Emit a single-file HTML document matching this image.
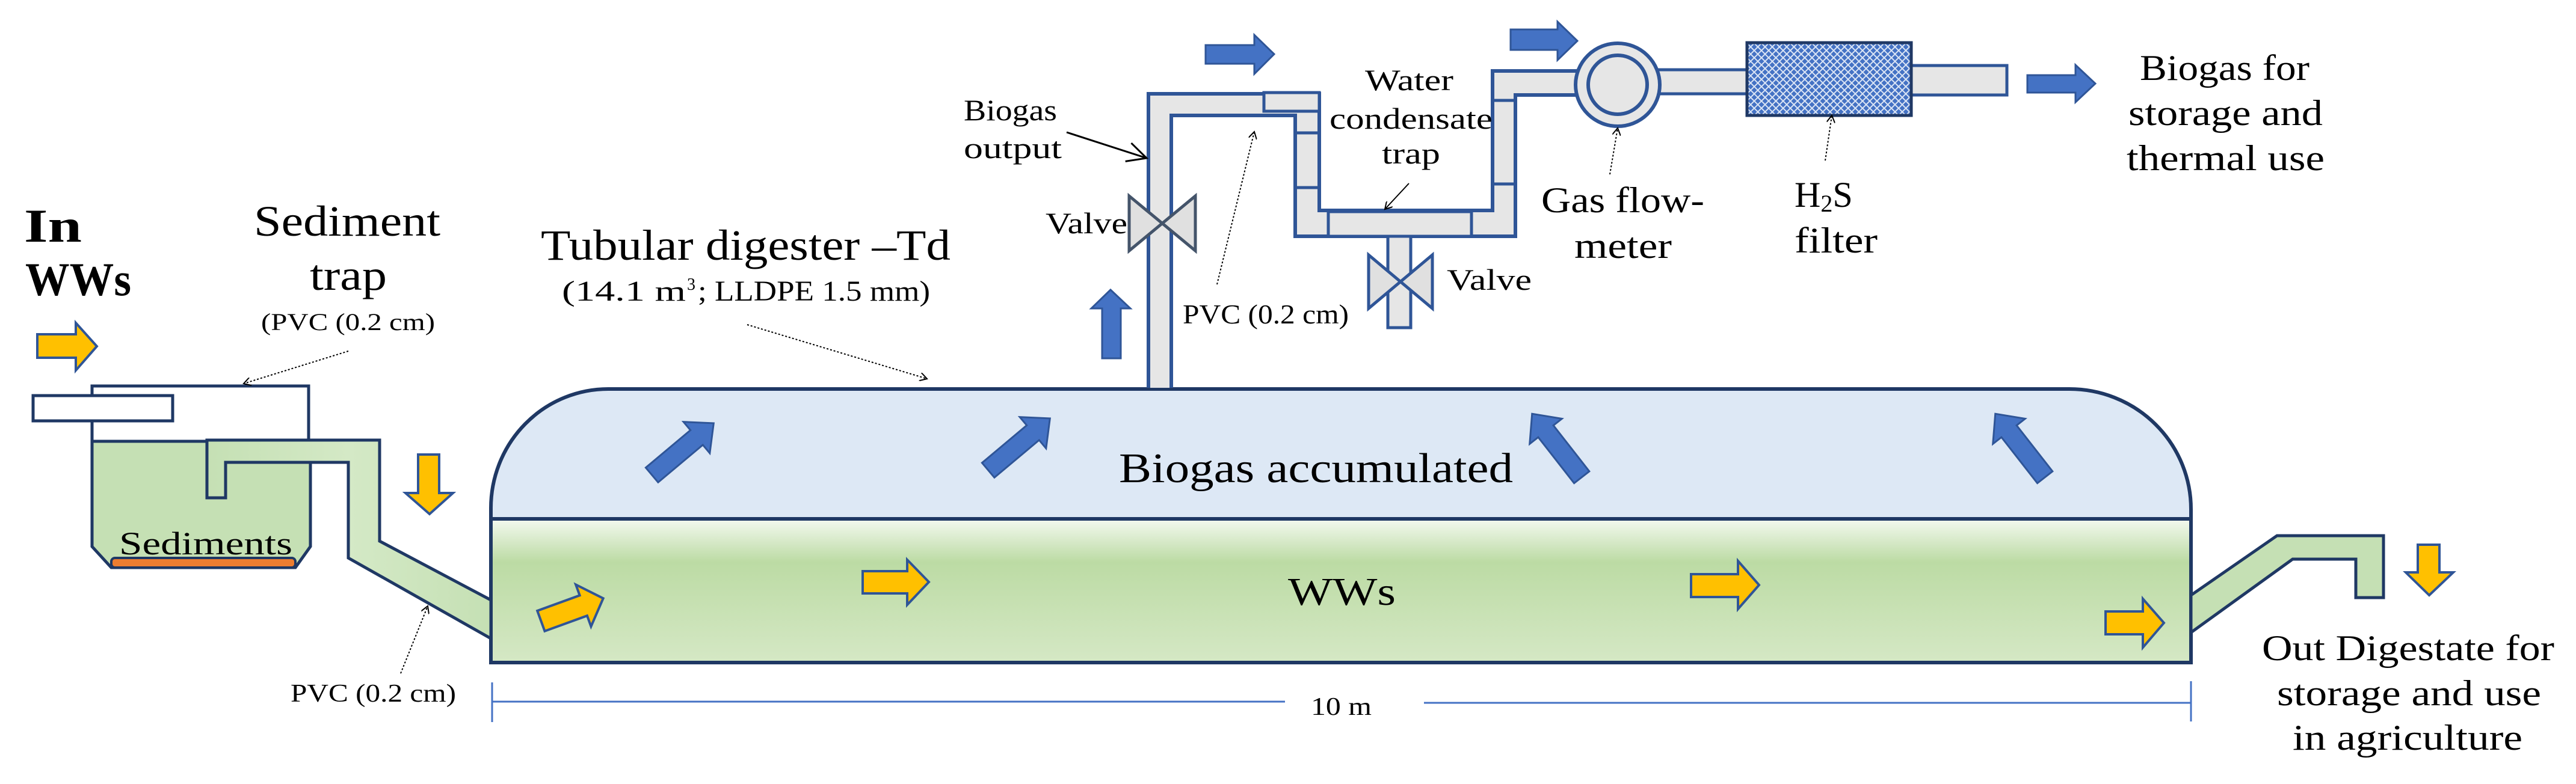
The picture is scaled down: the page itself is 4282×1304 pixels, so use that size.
<!DOCTYPE html>
<html><head><meta charset="utf-8"><style>html,body{margin:0;padding:0;background:#fff}svg{display:block}svg text{font-family:"Liberation Serif","DejaVu Serif",serif !important;fill:#000}</style></head>
<body>
<svg width="4282" height="1304" viewBox="0 0 4282 1304" xmlns="http://www.w3.org/2000/svg" font-family="Liberation Serif, DejaVu Serif, serif">
<defs>
<linearGradient id="gw" x1="0" y1="0" x2="0" y2="1">
<stop offset="0" stop-color="#f4f9f0"/><stop offset="0.3" stop-color="#bcdba4"/><stop offset="1" stop-color="#d5e8c5"/></linearGradient>
<linearGradient id="gp" x1="0" y1="0" x2="1" y2="0">
<stop offset="0" stop-color="#c5e0b4"/><stop offset="0.5" stop-color="#d4e9c6"/><stop offset="1" stop-color="#c5e0b4"/></linearGradient>
<pattern id="hatch" width="12" height="12" patternUnits="userSpaceOnUse">
<rect width="12" height="12" fill="#4472c4"/><path d="M0,0L12,12M12,0L0,12" stroke="#dbe5f5" stroke-width="2"/></pattern>
<marker id="ah" markerWidth="14" markerHeight="14" refX="12" refY="7" orient="auto" markerUnits="userSpaceOnUse"><path d="M0,0L12,7L0,14" fill="none" stroke="#000" stroke-width="2"/></marker>
<marker id="ah2" markerWidth="40" markerHeight="40" refX="36" refY="20" orient="auto" markerUnits="userSpaceOnUse"><path d="M4,4L36,20L4,36" fill="none" stroke="#000" stroke-width="3"/></marker>
</defs>

<path d="M816,863 V845 A195,198 0 0 1 1011,647 H3440 A202,200 0 0 1 3642,847 V863 Z" fill="#dde8f5" stroke="#1f3864" stroke-width="6"/>
<rect x="816" y="863" width="2826" height="239" fill="url(#gw)" stroke="#1f3864" stroke-width="6"/>

<rect x="153" y="642" width="360" height="92" fill="#fff" stroke="#1f3864" stroke-width="5"/>
<rect x="55" y="658" width="232" height="42" fill="#fff" stroke="#1f3864" stroke-width="5"/>
<path d="M153,734 H516 V909 L491,944 H185 L153,909 Z" fill="#c5e0b4" stroke="#1f3864" stroke-width="5"/>
<rect x="185" y="928" width="306" height="16" rx="6" fill="#ed7d31" stroke="#1f3864" stroke-width="4"/>
<path d="M344,732 H631 V900 L816,998 V1062 L579,928 V769 H375 V828 H344 Z" fill="url(#gp)" stroke="#1f3864" stroke-width="5"/>
<path d="M3642,990 L3785,891 H3962 V994 H3916 V930 H3811 L3642,1052 Z" fill="#c5e0b4" stroke="#1f3864" stroke-width="5"/>

<path d="M1909,645 V156 H2193 V350 H2481 V118 H2630 V158 H2519 V393 H2153 V192 H1947 V645" fill="#e6e6e6" stroke="#2f5597" stroke-width="6"/>
<rect x="2101" y="154" width="92" height="31" fill="#e6e6e6" stroke="#2f5597" stroke-width="5"/>
<path d="M2153,221 H2193 M2153,312 H2193 M2481,167 H2519 M2481,306 H2519" stroke="#2f5597" stroke-width="5"/>
<rect x="2208" y="352" width="238" height="41" fill="#e6e6e6" stroke="#2f5597" stroke-width="5"/>
<rect x="2307" y="393" width="38" height="152" fill="#e6e6e6" stroke="#2f5597" stroke-width="5"/>
<rect x="2755" y="116" width="151" height="40" fill="#e6e6e6" stroke="#2f5597" stroke-width="5"/>
<ellipse cx="2689" cy="141" rx="70" ry="69" fill="#e6e6e6" stroke="#2f5597" stroke-width="6"/>
<circle cx="2689" cy="141" r="49" fill="#e6e6e6" stroke="#2f5597" stroke-width="6"/>
<rect x="3177" y="109" width="159" height="49" fill="#e6e6e6" stroke="#2f5597" stroke-width="5"/>
<rect x="2904" y="71" width="273" height="121" fill="url(#hatch)" stroke="#1f3864" stroke-width="5"/>
<path d="M1877,326 L1987,417 V326 L1877,417 Z" fill="#e0e0e0" stroke="#44546a" stroke-width="5"/>
<path d="M2275,424 L2381,513 V424 L2275,513 Z" fill="#e0e0e0" stroke="#2f5597" stroke-width="5"/>

<g fill="#4472c4" stroke="#2f5597" stroke-width="3">
<path d="M2004,75 H2085 V58 L2118,90 L2085,123 V106 H2004 Z"/>
<path d="M2511,49 H2589 V36 L2622,68 L2589,100 V83 H2511 Z"/>
<path d="M3370,125 H3450 V108 L3483,139 L3450,170 V154 H3370 Z"/>
<path d="M1832,596 V513 H1814 L1846,482 L1879,513 H1863 V596 Z"/>
<g transform="translate(1135,747) rotate(-40)"><path d="M-67,-16 H30 V-34 L67,0 L30,34 V16 H-67 Z"/></g>
<g transform="translate(1694,739) rotate(-40)"><path d="M-67,-16 H30 V-34 L67,0 L30,34 V16 H-67 Z"/></g>
<g transform="translate(2588,741) rotate(-128)"><path d="M-67,-16 H30 V-34 L67,0 L30,34 V16 H-67 Z"/></g>
<g transform="translate(3358,741) rotate(-128)"><path d="M-67,-16 H30 V-34 L67,0 L30,34 V16 H-67 Z"/></g>
</g>
<g fill="#ffc000" stroke="#2f5597" stroke-width="4">
<path d="M62,556 H126 V537 L161,576 L126,616 V595 H62 Z"/>
<path d="M695,756 H730 V820 H753 L714,855 L674,820 H695 Z"/>
<g transform="translate(951,1014) rotate(-20)"><path d="M-55,-18 H20 V-37 L55,0 L20,37 V18 H-55 Z"/></g>
<path d="M1434,950 H1508 V931 L1544,968 L1508,1006 V987 H1434 Z"/>
<path d="M2811,955 H2889 V933 L2924,973 L2889,1013 V993 H2811 Z"/>
<path d="M3500,1017 H3562 V996 L3597,1036 L3562,1077 V1055 H3500 Z"/>
<path d="M4019,906 H4055 V952 H4078 L4038,990 L3999,952 H4019 Z"/>
</g>

<g stroke="#4472c4" stroke-width="3">
<path d="M818,1135 V1201 M3642,1133 V1200 M818,1167 H2136 M2367,1169 H3642"/>
</g>

<g fill="none" stroke="#000" stroke-width="2">
<path d="M579,584 L405,638" stroke-dasharray="3,3" marker-end="url(#ah)"/>
<path d="M666,1120 L711,1008" stroke-dasharray="3,3" marker-end="url(#ah)"/>
<path d="M1242,540 L1541,630" stroke-dasharray="3,3" marker-end="url(#ah)"/>
<path d="M2023,473 L2085,219" stroke-dasharray="3,3" marker-end="url(#ah)"/>
<path d="M2676,290 L2689,213" stroke-dasharray="3,3" marker-end="url(#ah)"/>
<path d="M3034,267 L3045,192" stroke-dasharray="3,3" marker-end="url(#ah)"/>
<path d="M2342,305 L2302,348" marker-end="url(#ah)"/>
<path d="M1773,220 L1906,263" stroke-width="3" marker-end="url(#ah2)"/>
</g>

<text x="40" y="402" font-size="78" font-weight="bold" textLength="96" lengthAdjust="spacingAndGlyphs">In</text>
<text x="42" y="491" font-size="78" font-weight="bold" textLength="176" lengthAdjust="spacingAndGlyphs">WWs</text>
<text x="422" y="392" font-size="72" textLength="310" lengthAdjust="spacingAndGlyphs">Sediment</text>
<text x="515" y="482" font-size="72" textLength="128" lengthAdjust="spacingAndGlyphs">trap</text>
<text x="434" y="549" font-size="40" textLength="289" lengthAdjust="spacingAndGlyphs">(PVC (0.2 cm)</text>
<text x="198" y="922" font-size="54" textLength="288" lengthAdjust="spacingAndGlyphs">Sediments</text>
<text x="483" y="1167" font-size="42" textLength="275" lengthAdjust="spacingAndGlyphs">PVC (0.2 cm)</text>
<text x="899" y="432" font-size="72" textLength="681" lengthAdjust="spacingAndGlyphs">Tubular digester –Td</text>
<text x="934" y="500" font-size="48" textLength="206" lengthAdjust="spacingAndGlyphs">(14.1 m</text>
<text x="1142" y="482" font-size="28">3</text>
<text x="1160" y="500" font-size="48" textLength="386" lengthAdjust="spacingAndGlyphs">; LLDPE 1.5 mm)</text>
<text x="1860" y="802" font-size="70" textLength="655" lengthAdjust="spacingAndGlyphs">Biogas accumulated</text>
<text x="2141" y="1006" font-size="66" textLength="179" lengthAdjust="spacingAndGlyphs">WWs</text>
<text x="2179" y="1189" font-size="42" textLength="101" lengthAdjust="spacingAndGlyphs">10 m</text>
<text x="1602" y="200" font-size="50" textLength="155" lengthAdjust="spacingAndGlyphs">Biogas</text>
<text x="1602" y="263" font-size="50" textLength="163" lengthAdjust="spacingAndGlyphs">output</text>
<text x="1738" y="388" font-size="50" textLength="136" lengthAdjust="spacingAndGlyphs">Valve</text>
<text x="1966" y="538" font-size="46" textLength="276" lengthAdjust="spacingAndGlyphs">PVC (0.2 cm)</text>
<text x="2405" y="482" font-size="50" textLength="141" lengthAdjust="spacingAndGlyphs">Valve</text>
<text x="2269" y="150" font-size="50" textLength="147" lengthAdjust="spacingAndGlyphs">Water</text>
<text x="2210" y="214" font-size="50" textLength="271" lengthAdjust="spacingAndGlyphs">condensate</text>
<text x="2297" y="272" font-size="50" textLength="97" lengthAdjust="spacingAndGlyphs">trap</text>
<text x="2562" y="353" font-size="60" textLength="271" lengthAdjust="spacingAndGlyphs">Gas flow-</text>
<text x="2617" y="429" font-size="60" textLength="162" lengthAdjust="spacingAndGlyphs">meter</text>
<text x="2983" y="344" font-size="60">H<tspan font-size="40" dy="8">2</tspan><tspan dy="-8">S</tspan></text>
<text x="2983" y="420" font-size="60" textLength="138" lengthAdjust="spacingAndGlyphs">filter</text>
<text x="3557" y="133" font-size="60" textLength="282" lengthAdjust="spacingAndGlyphs">Biogas for</text>
<text x="3538" y="208" font-size="60" textLength="323" lengthAdjust="spacingAndGlyphs">storage and</text>
<text x="3535" y="283" font-size="60" textLength="329" lengthAdjust="spacingAndGlyphs">thermal use</text>
<text x="3760" y="1098" font-size="60" textLength="486" lengthAdjust="spacingAndGlyphs">Out Digestate for</text>
<text x="3785" y="1173" font-size="60" textLength="439" lengthAdjust="spacingAndGlyphs">storage and use</text>
<text x="3811" y="1247" font-size="60" textLength="382" lengthAdjust="spacingAndGlyphs">in agriculture</text>
</svg>
</body></html>
